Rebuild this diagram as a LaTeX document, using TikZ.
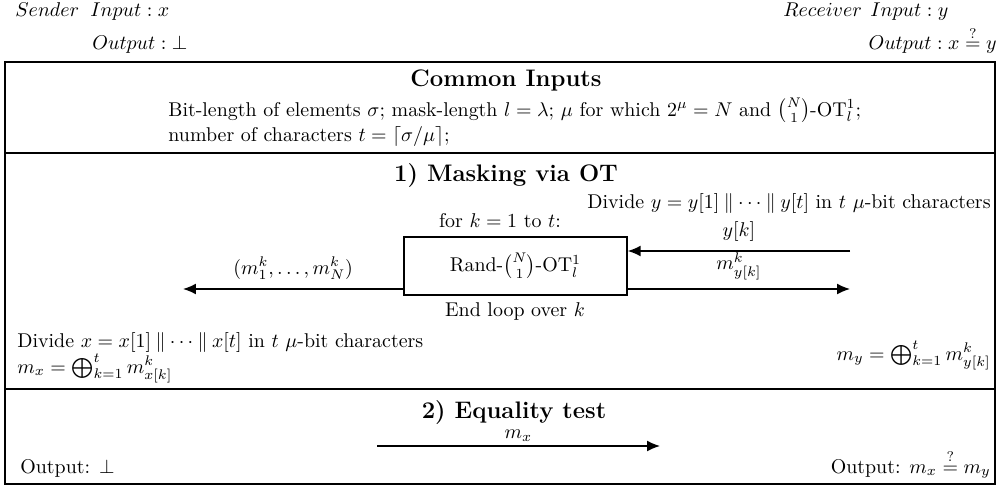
\documentclass[tikz,border=0pt]{standalone}
\usepackage{amsmath,amssymb}
\usetikzlibrary{arrows.meta}
\newcommand{\catsep}{\mathbin{\|}}
\begin{document}
\begin{tikzpicture}[x=0.01764cm,y=-0.01764cm,
  frame/.style={line width=1.1pt},
  arr/.style={line width=0.75pt,-{Latex[length=6.5pt,width=5.5pt]}},
  hdr/.style={font=\large\bfseries,inner sep=0pt},
  txt/.style={inner sep=0pt}]
\useasboundingbox (0,0) rectangle (998,487);
% top labels
\node[txt,anchor=base west] (snd) at (15,17) {$Sender$};
\node[txt,anchor=base west] (sin) at (90,17) {$Input: x$};
\node[txt,anchor=base west] (sout) at (92,50) {$Output: \bot$};
\node[txt,anchor=base west] (rcv) at (783,17) {$Receiver$};
\node[txt,anchor=base west] (rin) at (870,17) {$Input: y$};
\node[txt,anchor=base east] (rout) at (997,50) {$Output: x \overset{?}{=} y$};
% frame
\draw[frame] (5,62) rectangle (995,484);
\draw[frame] (5,153) -- (995,153);
\draw[frame] (5,389) -- (995,389);
% common inputs
\node[hdr,anchor=base] (ci) at (506,86) {Common Inputs};
\node[txt,anchor=base west] (ci1) at (168,116) {Bit-length of elements $\sigma$; mask-length $l=\lambda$; $\mu$ for which $2^\mu=N$ and $\binom{N}{1}$-OT$^1_l$;};
\node[txt,anchor=base west] (ci2) at (168,141) {number of characters $t=\lceil\sigma/\mu\rceil$;};
% masking
\node[hdr,anchor=base] (mh) at (506,181) {1) Masking via OT};
\node[txt,anchor=base east] (divy) at (991,208) {Divide $y=y[1]\catsep\cdots\catsep y[t]$ in $t$ $\mu$-bit characters};
\node[txt,anchor=base] (for) at (500,227) {for $k=1$ to $t$:};
\node[draw,line width=0.75pt,minimum width=223*0.01764cm,minimum height=58*0.01764cm] (ot) at (515.5,266) {Rand-$\binom{N}{1}$-OT$^1_l$};
\coordinate (yk0) at (850,251);
\coordinate (myk1) at (850,289);
\coordinate (mk1) at (183,289);
\draw[arr] (yk0) -- node[above=1pt] {$y[k]$} (yk0 -| ot.east);
\draw[arr] (myk1 -| ot.east) -- node[above=1pt] {$m^k_{y[k]}$} (myk1);
\draw[arr] (mk1 -| ot.west) -- node[above=1pt] {$(m^k_1,\ldots,m^k_N)$} (mk1);
\node[txt,anchor=base] (end) at (515,316) {End loop over $k$};
\node[txt,anchor=base west] (divx) at (17,347) {Divide $x=x[1]\catsep\cdots\catsep x[t]$ in $t$ $\mu$-bit characters};
\node[txt,anchor=base west] (mx) at (17,373) {$m_x=\bigoplus_{k=1}^t m^k_{x[k]}$};
\node[txt,anchor=base east] (my) at (991,360) {$m_y=\bigoplus_{k=1}^t m^k_{y[k]}$};
% equality
\node[hdr,anchor=base] (eh) at (514,418) {2) Equality test};
\coordinate (ea) at (377,446);
\coordinate (eb) at (660,446);
\draw[arr] (ea) -- node[above,inner sep=2pt] {$m_x$} (eb);
\node[txt,anchor=base west] (o1) at (20,473) {Output: $\bot$};
\node[txt,anchor=base east] (o2) at (991,473) {Output: $m_x\overset{?}{=}m_y$};
\end{tikzpicture}
\end{document}
